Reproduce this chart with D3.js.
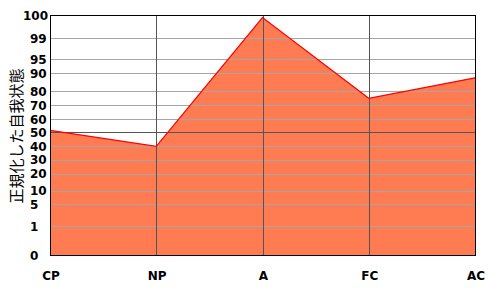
<!DOCTYPE html>
<html><head><meta charset="utf-8">
<script src="https://cdn.jsdelivr.net/npm/d3@7"></script>
<style>body{margin:0;background:#fff;}svg{display:block;}</style>
</head><body>
<svg id="c" width="500" height="300"></svg>
<script>
const categories = ["CP","NP","A","FC","AC"];
const values = [51.5, 40, 99.9, 75, 87.5];
const tickValues = [0,1,5,10,20,30,40,50,60,70,80,90,95,99,100];
const tickPixels = [255,226.3,204.3,190.7,173.7,159.7,146.3,132.3,119.3,105.3,91.3,73.3,59.3,38.3,15.3];
const yLabel = "正規化した自我状態";

(function(){
const svg = d3.select("#c");
const x = d3.scalePoint().domain(categories).range([50, 475]);
const y = d3.scaleLinear().domain(tickValues).range(tickPixels);
const pL = 50, pR = 475, pT = 15.5, pB = 255.5;

// area
const area = d3.area().x((d,i)=>x(categories[i])).y0(pB).y1(d=>y(d));
svg.append("path").datum(values).attr("d", area).attr("fill", "#ff7b52");

// horizontal grid
svg.append("g").selectAll("line").data(tickValues.filter(v=>v>0 && v<100)).join("line")
  .attr("x1", pL).attr("x2", pR)
  .attr("y1", d=>Math.round(y(d))+0.5).attr("y2", d=>Math.round(y(d))+0.5)
  .attr("stroke", d=> d===50 ? "#555" : "#a6a6a6").attr("stroke-width", 1);

// vertical grid
svg.append("g").selectAll("line").data(categories.slice(1,-1)).join("line")
  .attr("x1", d=>Math.round(x(d))+0.5).attr("x2", d=>Math.round(x(d))+0.5)
  .attr("y1", pT).attr("y2", pB)
  .attr("stroke", "#555").attr("stroke-width", 1);

// line
const line = d3.line().x((d,i)=>x(categories[i])).y(d=>y(d));
svg.append("path").datum(values).attr("d", line).attr("fill","none").attr("stroke","#ff0000").attr("stroke-width",1.2);

// border
svg.append("rect").attr("x", pL+0.5).attr("y", pT).attr("width", pR-pL).attr("height", pB-pT)
  .attr("fill","none").attr("stroke","#000").attr("stroke-width",1);

// y tick labels
svg.append("g").selectAll("text").data(tickValues).join("text")
  .attr("x", d=> String(d).length===3 ? 23 : 30)
  .attr("y", d=>y(d)+1)
  .attr("dominant-baseline","middle")
  .attr("font-family","DejaVu Sans, sans-serif").attr("font-weight","bold").attr("font-size",12)
  .attr("fill","#000").text(d=>d);

// x labels
svg.append("g").selectAll("text").data(categories).join("text")
  .attr("x", d=>x(d)+1).attr("y", 280)
  .attr("text-anchor","middle")
  .attr("font-family","DejaVu Sans, sans-serif").attr("font-weight","bold").attr("font-size",12)
  .attr("fill","#000").text(d=>d);

// y label
svg.append("text").attr("transform","translate(22,136) rotate(-90)")
  .attr("text-anchor","middle")
  .attr("font-family","Noto Sans CJK JP, sans-serif").attr("font-size",15)
  .attr("fill","#000").text(yLabel);
})();
</script>
</body></html>
